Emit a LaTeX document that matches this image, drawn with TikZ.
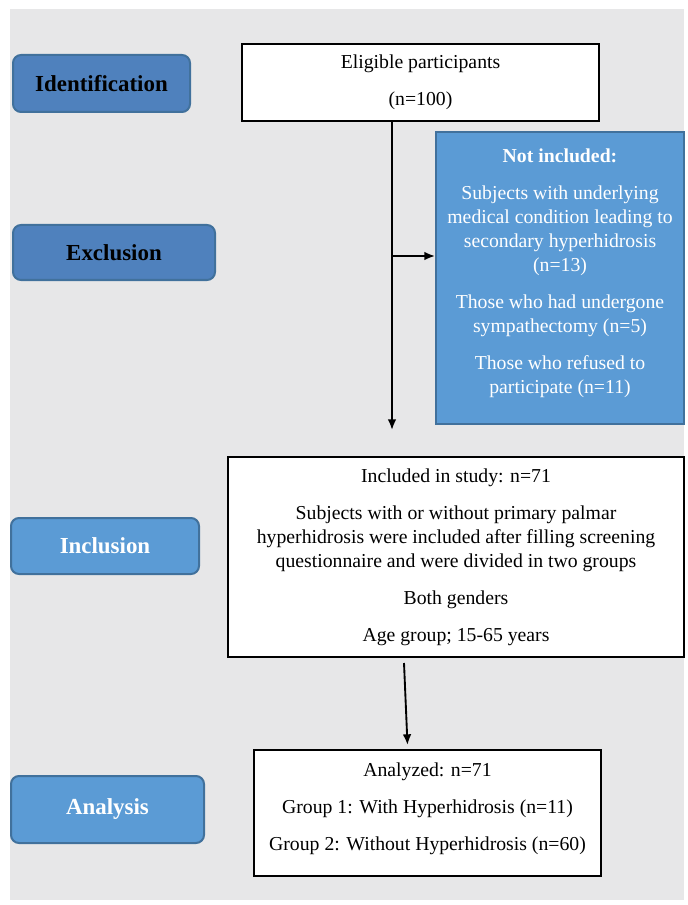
\documentclass[tikz,border=0pt]{standalone}
\usepackage{fontspec}
\setmainfont{Liberation Serif}
\usepackage{xcolor}
\usepackage{tikz}
\usetikzlibrary{arrows.meta, positioning, calc}
\definecolor{stagedark}{RGB}{79,129,189}
\definecolor{stagelight}{RGB}{91,155,213}
\definecolor{stageborder}{RGB}{65,113,156}
\definecolor{panelgray}{RGB}{231,231,232}

\begin{document}
\begin{tikzpicture}[x=0.75pt, y=-0.75pt,
    stage/.style={rectangle, rounded corners=6pt, draw=stageborder, line width=1.5pt, anchor=north west, align=center, font=\fontsize{17.2}{20}\selectfont\bfseries},
    flowbox/.style={rectangle, draw, line width=1.5pt, fill=white, anchor=north west, align=center, inner sep=0pt, font=\fontsize{14.8}{18}\selectfont},
    flowarrow/.style={-{Latex[length=8pt, width=6.5pt]}, line width=1.4pt}]
    \useasboundingbox (0,0) rectangle (687,905);
    \fill[panelgray] (10,9) rectangle (684,900);

    % Stages
    \node[stage, fill=stagedark, minimum width=132.75pt, minimum height=42.75pt] (ident) at (12,54) {Identification};
    \node[stage, fill=stagedark, minimum width=151.5pt, minimum height=41.25pt] (excl) at (12,224) {Exclusion};
    \node[stage, fill=stagelight, text=white, minimum width=141pt, minimum height=42pt] (incl) at (10,517) {Inclusion};
    \node[stage, fill=stagelight, text=white, minimum width=144.75pt, minimum height=50.25pt] (anal) at (10,775) {Analysis};

    % Flow boxes
    \node[flowbox, minimum width=267.75pt, minimum height=57.75pt] (eligible) at (241,43) {Eligible participants\\[9.75pt](n=100)};
    \node[flowbox, draw=stageborder, fill=stagelight, text=white, minimum width=186pt, minimum height=219pt] (notinc) at (435,131) {\textbf{Not included:}\\[9.75pt]Subjects with underlying\\medical condition leading to\\secondary hyperhidrosis\\(n=13)\\[9.75pt]Those who had undergone\\sympathectomy (n=5)\\[9.75pt]Those who refused to\\participate (n=11)\\[-8pt]};
    \node[flowbox, minimum width=342pt, minimum height=150pt] (included) at (227,456) {Included in study: n=71\\[9.75pt]Subjects with or without primary palmar\\hyperhidrosis were included after filling screening\\questionnaire and were divided in two groups\\[9.75pt]Both genders\\[9.75pt]Age group; 15-65 years};
    \node[flowbox, minimum width=260.25pt, minimum height=94.5pt] (analyzed) at (253,749) {Analyzed: n=71\\[9.75pt]Group 1: With Hyperhidrosis (n=11)\\[9.75pt]Group 2: Without Hyperhidrosis (n=60)\\[-9pt]};

    % Arrows
    \coordinate (drop) at (392,430);
    \coordinate (branch) at (392,256);
    \draw[flowarrow] (eligible.south -| drop) -- (drop);
    \draw[flowarrow] (branch) -- (branch -| notinc.west);
    \draw[flowarrow] ($(included.south)+(-52,5)$) -- ($(analyzed.north)+(-20,-4)$);
\end{tikzpicture}
\end{document}
